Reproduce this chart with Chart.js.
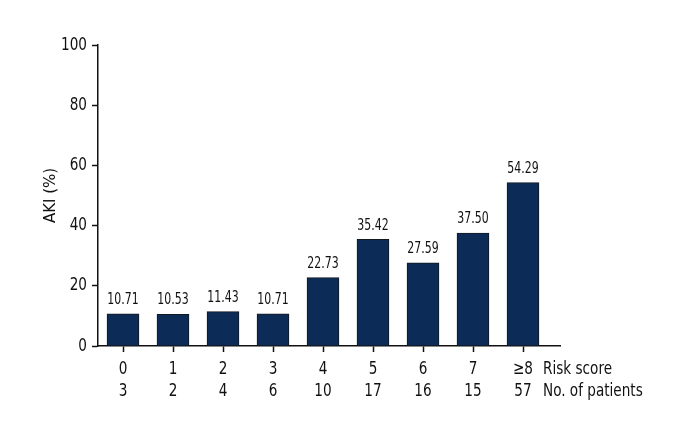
<!DOCTYPE html>
<html>
<head>
<meta charset="UTF-8">
<script src="https://cdn.jsdelivr.net/npm/chart.js"></script>
<style>
  html, body { margin: 0; padding: 0; background: #fff; }
  #wrap { width: 680px; height: 440px; }
</style>
</head>
<body>
<div id="wrap"><canvas id="c"></canvas></div>
<script>
// chart data
const riskScores = ['0', '1', '2', '3', '4', '5', '6', '7', '\u22658'];
const patients = ['3', '2', '4', '6', '10', '17', '16', '15', '57'];
const akiRates = [10.71, 10.53, 11.43, 10.71, 22.73, 35.42, 27.59, 37.50, 54.29];
const yTicks = [0, 20, 40, 60, 80, 100];
const rowNames = ['Risk score', 'No. of patients'];

const FONT = '"DejaVu Sans", sans-serif';
const STYLE = 'normal condensed';

// narrow text helper (source font is a condensed face)
function narrowText(ctx, text, x, y, sx) {
  ctx.save();
  ctx.translate(x, y);
  ctx.scale(sx, 1);
  ctx.fillText(text, 0, 0);
  ctx.restore();
}

// tick labels, values above bars, row captions on the right
const labelsPlugin = {
  id: 'labels',
  afterDatasetsDraw(chart) {
    const ctx = chart.ctx;
    const meta = chart.getDatasetMeta(0);
    const xs = chart.scales.x, ys = chart.scales.y;
    const b = chart.chartArea.bottom;
    ctx.save();
    ctx.fillStyle = '#111';

    ctx.font = STYLE + ' 16px ' + FONT;
    ctx.textAlign = 'center';
    ctx.textBaseline = 'bottom';
    meta.data.forEach((bar, i) => {
      narrowText(ctx, akiRates[i].toFixed(2), bar.x, bar.y - 6, 0.76);
    });

    ctx.font = STYLE + ' 18px ' + FONT;
    ctx.textBaseline = 'middle';
    riskScores.forEach((r, i) => {
      const x = xs.getPixelForValue(i);
      narrowText(ctx, r, x, b + 23, 0.84);
      narrowText(ctx, patients[i], x, b + 45, 0.84);
    });

    ctx.textAlign = 'right';
    yTicks.forEach(v => {
      narrowText(ctx, String(v), ys.left + ys.width - 11, ys.getPixelForValue(v), 0.84);
    });

    ctx.textAlign = 'left';
    narrowText(ctx, rowNames[0], 543, b + 23, 0.84);
    narrowText(ctx, rowNames[1], 543, b + 45, 0.84);
    ctx.restore();
  }
};

new Chart(document.getElementById('c'), {
  type: 'bar',
  data: {
    datasets: [{
      data: akiRates.map((v, i) => ({ x: i, y: v })),
      backgroundColor: '#0c2c57',
      borderColor: '#101820',
      borderWidth: 1,
      barThickness: 32
    }]
  },
  options: {
    responsive: true,
    maintainAspectRatio: false,
    animation: false,
    layout: { padding: { top: 45, right: 120, left: 42, bottom: 0 } },
    plugins: { legend: { display: false }, tooltip: { enabled: false } },
    scales: {
      x: {
        type: 'linear',
        offset: false,
        min: -0.5,
        max: 8.74,
        afterBuildTicks(scale) {
          scale.ticks = riskScores.map((_, i) => ({ value: i }));
        },
        afterFit(scale) { scale.height = 94; },
        grid: { offset: false, drawOnChartArea: false, tickLength: 6, tickColor: '#111', tickWidth: 1.5 },
        border: { color: '#111', width: 1.5 },
        ticks: { display: false }
      },
      y: {
        min: 0,
        max: 100,
        afterBuildTicks(scale) {
          scale.ticks = yTicks.map(v => ({ value: v }));
        },
        afterFit(scale) { scale.width = 56; },
        grid: { drawOnChartArea: false, tickLength: 6, tickColor: '#111', tickWidth: 1.5 },
        border: { color: '#111', width: 1.5 },
        ticks: { display: false },
        title: {
          display: true,
          text: 'AKI (%)',
          color: '#111',
          padding: 0,
          font: { family: FONT, style: STYLE, size: 15 }
        }
      }
    }
  },
  plugins: [labelsPlugin]
});
</script>
</body>
</html>
